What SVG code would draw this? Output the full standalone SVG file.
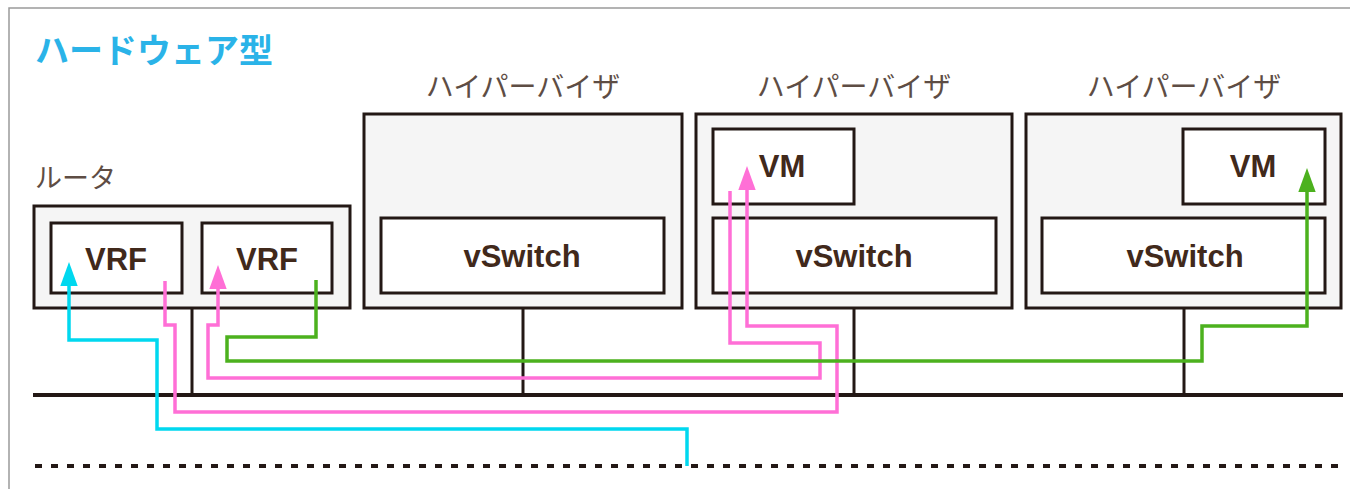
<svg xmlns="http://www.w3.org/2000/svg" width="1350" height="489" viewBox="0 0 1350 489">
<defs>
<style>
.frame{fill:#fff;stroke:#9a9a9a;stroke-width:1.5}
.outer{fill:#f5f5f5;stroke:#231815;stroke-width:3}
.inner{fill:#fff;stroke:#231815;stroke-width:3}
.wire{fill:none;stroke:#231815;stroke-width:3}
.bus{fill:none;stroke:#231815;stroke-width:4}
.dots{fill:none;stroke:#231815;stroke-width:4;stroke-dasharray:7 9}
.lbl{font-family:"Liberation Sans",Arial,sans-serif;font-weight:bold;font-size:31px;fill:#41291b;text-anchor:middle}
.jp{font-family:"Noto Sans CJK JP",sans-serif;fill:#5e4d44}
.hv{font-size:28px;text-anchor:middle}
.title{font-family:"Noto Sans CJK JP",sans-serif;font-weight:bold;font-size:34px;fill:#2ab3e8}
.c{fill:none;stroke-width:3.5;stroke-linejoin:miter}
</style>
<marker id="aCyan" markerUnits="userSpaceOnUse" markerWidth="24" markerHeight="18" viewBox="0 0 22 16" refX="12" refY="8" orient="auto"><path d="M0,0 L22,8 L0,16 Z" fill="#00d8ef"/></marker>
<marker id="aPink" markerUnits="userSpaceOnUse" markerWidth="24" markerHeight="18" viewBox="0 0 22 16" refX="12" refY="8" orient="auto"><path d="M0,0 L22,8 L0,16 Z" fill="#ff6fd6"/></marker>
<marker id="aGreen" markerUnits="userSpaceOnUse" markerWidth="24" markerHeight="18" viewBox="0 0 22 16" refX="12" refY="8" orient="auto"><path d="M0,0 L22,8 L0,16 Z" fill="#4cb11e"/></marker>
</defs>
<rect x="0" y="0" width="1350" height="489" fill="#fff"/>
<rect class="frame" x="9" y="8" width="1360" height="500"/>
<text class="title" x="35" y="63">ハードウェア型</text>

<g id="network">
<line class="bus" x1="33" y1="395" x2="1343" y2="395"/>
<line class="dots" x1="35" y1="466" x2="1343" y2="466"/>
<line class="wire" x1="192" y1="309" x2="192" y2="395"/>
<line class="wire" x1="523" y1="308" x2="523" y2="395"/>
<line class="wire" x1="854" y1="308" x2="854" y2="395"/>
<line class="wire" x1="1184" y1="308" x2="1184" y2="395"/>
</g>

<g id="router">
<text class="jp" x="35" y="188" font-size="27">ルータ</text>
<rect class="outer" x="34" y="206" width="316" height="102"/>
<g id="vrf1"><rect class="inner" x="51" y="223" width="131" height="70"/><text class="lbl" x="116" y="270">VRF</text></g>
<g id="vrf2"><rect class="inner" x="202" y="223" width="130" height="70"/><text class="lbl" x="267" y="270">VRF</text></g>
</g>

<g id="hv1">
<text class="jp hv" x="523" y="97">ハイパーバイザ</text>
<rect class="outer" x="364" y="114" width="318" height="194"/>
<g id="vswitch1"><rect class="inner" x="381" y="218" width="283" height="75"/><text class="lbl" x="522" y="267">vSwitch</text></g>
</g>

<g id="hv2">
<text class="jp hv" x="854" y="97">ハイパーバイザ</text>
<rect class="outer" x="696" y="114" width="316" height="194"/>
<g id="vm1"><rect class="inner" x="713" y="129" width="141" height="75"/><text class="lbl" x="782" y="177">VM</text></g>
<g id="vswitch2"><rect class="inner" x="713" y="218" width="283" height="75"/><text class="lbl" x="854" y="267">vSwitch</text></g>
</g>

<g id="hv3">
<text class="jp hv" x="1184" y="97">ハイパーバイザ</text>
<rect class="outer" x="1026" y="114" width="315" height="194"/>
<g id="vm2"><rect class="inner" x="1183" y="129" width="142" height="75"/><text class="lbl" x="1253" y="177">VM</text></g>
<g id="vswitch3"><rect class="inner" x="1042" y="218" width="283" height="75"/><text class="lbl" x="1185" y="267">vSwitch</text></g>
</g>

<g id="connectors">
<path class="c" stroke="#00d8ef" marker-end="url(#aCyan)" d="M687,466 V429 H157 V340 H69 V273"/>
<path class="c" stroke="#ff6fd6" marker-end="url(#aPink)" d="M165,281 V325 H175 V412 H837 V326 H747 V177"/>
<path class="c" stroke="#ff6fd6" marker-end="url(#aPink)" d="M730,191 V343 H820 V378 H208 V325 H218 V276"/>
<path class="c" stroke="#4cb11e" marker-end="url(#aGreen)" d="M316,280 V337 H227 V361 H1202 V326 H1307 V179"/>
</g>
</svg>
